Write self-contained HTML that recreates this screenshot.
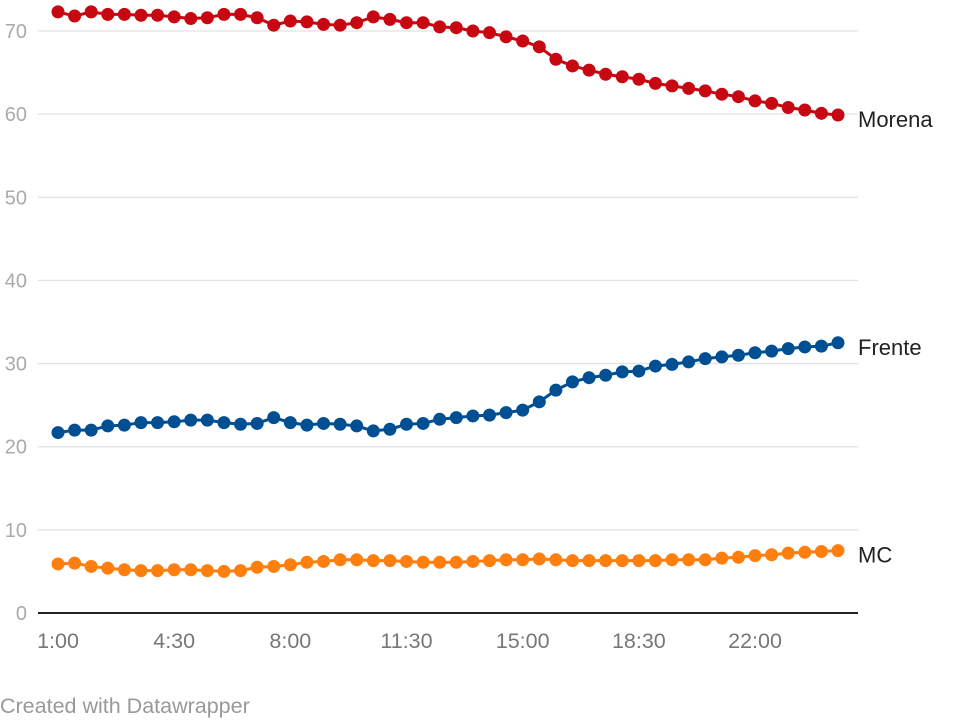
<!DOCTYPE html>
<html><head><meta charset="utf-8"><style>
body{margin:0;background:#fff;font-family:"Liberation Sans",sans-serif}
svg text{font-family:"Liberation Sans",sans-serif}
</style></head><body>
<svg width="960" height="720" id="c"></svg>
<script>
const morena=[72.3,71.8,72.3,72,72,71.9,71.9,71.7,71.5,71.6,72,72,71.6,70.7,71.2,71.1,70.8,70.7,71,71.7,71.4,71,71,70.5,70.4,70,69.8,69.3,68.8,68.1,66.6,65.8,65.3,64.8,64.5,64.2,63.7,63.4,63.1,62.8,62.4,62.1,61.6,61.3,60.8,60.5,60.1,59.9];
const frente=[21.7,22,22,22.5,22.6,22.9,22.9,23,23.2,23.2,22.9,22.7,22.8,23.5,22.9,22.6,22.8,22.7,22.5,21.9,22.1,22.7,22.8,23.3,23.5,23.7,23.8,24.1,24.4,25.4,26.8,27.8,28.3,28.6,29,29.1,29.7,29.9,30.2,30.6,30.8,31,31.3,31.5,31.8,32,32.1,32.5];
const mc=[5.9,6,5.6,5.4,5.2,5.1,5.1,5.2,5.2,5.1,5,5.1,5.5,5.6,5.8,6.1,6.2,6.4,6.4,6.3,6.3,6.2,6.1,6.1,6.1,6.2,6.3,6.4,6.4,6.5,6.4,6.3,6.3,6.3,6.3,6.3,6.3,6.4,6.4,6.4,6.6,6.7,6.9,7,7.2,7.3,7.4,7.5];
const yTicks=[0,10,20,30,40,50,60,70];
const xTickLabels=["1:00","4:30","8:00","11:30","15:00","18:30","22:00"];
const xTickIdx=[0,7,14,21,28,35,42];
const seriesNames=["Morena","Frente","MC"];
const NS="http://www.w3.org/2000/svg",svg=document.getElementById('c');
const y=v=>613-v*8.314, x=i=>58+i*(780/47);
function mk(t,a,p){const e=document.createElementNS(NS,t);for(const k in a)e.setAttribute(k,a[k]);(p||svg).appendChild(e);return e;}
yTicks.forEach(t=>{
 const l=mk('line',{x1:38,x2:858,y1:y(t),y2:y(t),stroke:t===0?'#222':'#e2e2e2','stroke-width':t===0?2:1.3});
 
 
 const tx=mk('text',{x:27,y:y(t)+7,'text-anchor':'end','font-size':20,fill:'#aaa'});
 tx.textContent=t;
 
 
});
xTickLabels.forEach((s,k)=>{
 const tx=mk('text',{x:x(xTickIdx[k]),y:648,'text-anchor':'middle','font-size':21.5,fill:'#777'});
 tx.textContent=s;
 
 
});
[[morena,'#c70712'],[frente,'#004f92'],[mc,'#ff7f0e']].forEach(([d,c],si)=>{
 const g=mk('g',{});
 
 
 const p=mk('polyline',{points:d.map((v,i)=>x(i)+','+y(v)).join(' '),fill:'none',stroke:c,'stroke-width':3},g);
 
 
 d.forEach((v,i)=>{const ci=mk('circle',{cx:x(i),cy:y(v),r:6.5,fill:c},g);
  
  });
 const lb=mk('text',{x:858,y:y(d[d.length-1])+12,'font-size':22,fill:'#222'});
 lb.textContent=seriesNames[si];
 
 
});
const f=mk('text',{x:0,y:713,'font-size':21.5,fill:'#999'});
f.textContent='Created with Datawrapper';


</script>
</body></html>
